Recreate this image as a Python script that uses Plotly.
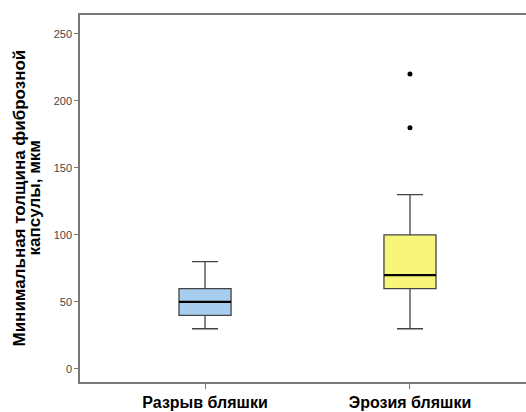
import plotly.graph_objects as go

categories = ["Разрыв бляшки", "Эрозия бляшки"]
positions = [0, 1]
q1 = [40, 60]
median = [50, 70]
q3 = [60, 100]
lower = [30, 30]
upper = [80, 130]
outlier_x = [1, 1]
outlier_y = [180, 220]
fills = ["#A9CDEF", "#F8F67A"]
title_lines = ["Минимальная толщина фиброзной", "капсулы, мкм"]

fig = go.Figure()
for i in range(len(categories)):
    fig.add_trace(go.Box(
        x=[positions[i]], q1=[q1[i]], median=[median[i]], q3=[q3[i]],
        lowerfence=[lower[i]], upperfence=[upper[i]],
        width=0.254, whiskerwidth=0.5,
        fillcolor=fills[i], line=dict(color="#444444", width=1.3),
        boxpoints=False, showlegend=False, hoverinfo="skip",
    ))
    fig.add_trace(go.Scatter(
        x=[positions[i] - 0.127, positions[i] + 0.127], y=[median[i], median[i]],
        mode="lines", line=dict(color="black", width=2.2), showlegend=False,
        hoverinfo="skip",
    ))

fig.add_trace(go.Scatter(
    x=outlier_x, y=outlier_y, mode="markers",
    marker=dict(color="black", size=5), showlegend=False,
))

fig.update_layout(
    width=526, height=412,
    margin=dict(l=80, r=0, t=15, b=30),
    plot_bgcolor="white", paper_bgcolor="white",
    font=dict(family="Liberation Sans, Arial, sans-serif"),
)
for shift, line in zip([-61, -46], title_lines):
    fig.add_annotation(
        text=line, xref="paper", yref="paper", x=0, y=0.5, xshift=shift,
        xanchor="center", yanchor="middle", textangle=-90, showarrow=False,
        font=dict(size=17, color="black", weight="bold"),
    )
fig.update_xaxes(
    range=[-0.61, 1.566], tickvals=positions, ticktext=categories,
    showline=True, linecolor="#777777", linewidth=1.5, mirror=True,
    ticks="outside", ticklen=5, tickcolor="#777777", showgrid=False, zeroline=False,
    tickfont=dict(size=16, color="black", weight="bold"),
)
fig.update_yaxes(
    range=[-9.7, 264], tickvals=[0, 50, 100, 150, 200, 250],
    showline=True, linecolor="#777777", linewidth=1.5,
    ticks="outside", ticklen=4, tickcolor="#777777", showgrid=False, zeroline=False,
    tickfont=dict(size=11, color="#444444"),
)

fig.write_html("out.html")
